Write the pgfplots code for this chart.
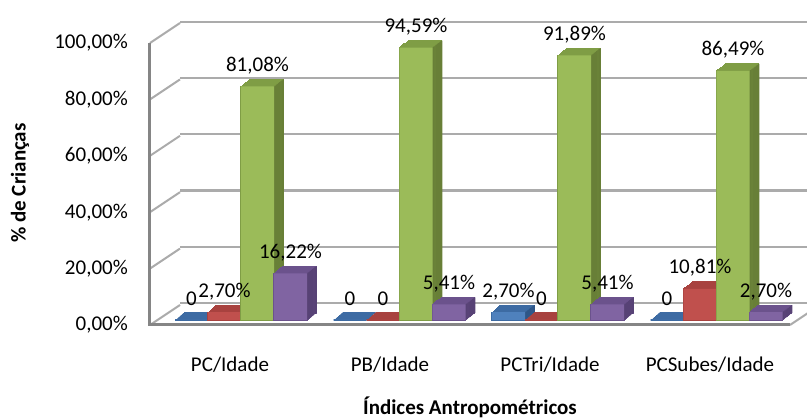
\documentclass[border=0pt]{standalone}
\usepackage{fontspec}
\setmainfont{Carlito}
\usepackage{pgfplots}
\usepackage{pgfplotstable}
\pgfplotsset{compat=1.18}

\definecolor{blueF}{HTML}{4F81BD}\definecolor{blueT}{HTML}{3D6BA3}\definecolor{blueS}{HTML}{2E5687}
\definecolor{redF}{HTML}{C0504D}\definecolor{redT}{HTML}{A8423F}\definecolor{redS}{HTML}{8A3432}
\definecolor{greenF}{HTML}{9BBB59}\definecolor{greenT}{HTML}{7F9D45}\definecolor{greenS}{HTML}{687F37}
\definecolor{purpF}{HTML}{8064A2}\definecolor{purpT}{HTML}{6B528C}\definecolor{purpS}{HTML}{574275}
\definecolor{gridgray}{HTML}{ABABAB}
\definecolor{edgegray}{HTML}{858585}

\newcommand\chartfont{\fontsize{21}{25}\selectfont}

% one table per series: category index, value, data label
\pgfplotstableread{
x y lab
0 0 0
1 0 0
2 2.70 {2,70\%}
3 0 0
}\tabBlue
\pgfplotstableread{
x y lab
0 2.70 {2,70\%}
1 0 0
2 0 0
3 10.81 {10,81\%}
}\tabRed
\pgfplotstableread{
x y lab
0 81.08 {81,08\%}
1 94.59 {94,59\%}
2 91.89 {91,89\%}
3 86.49 {86,49\%}
}\tabGreen
\pgfplotstableread{
x y lab
0 16.22 {16,22\%}
1 5.41 {5,41\%}
2 5.41 {5,41\%}
3 2.70 {2,70\%}
}\tabPurp

% 3D column: extruded copies (top colour), side slivers, then the front face
% #1 table, #2 bar shift, #3 sliver shift, #4 front, #5 top, #6 side
\newcommand\columnsthreed[6]{%
  \pgfplotsinvokeforeach{0,...,8}{%
    \addplot[ybar, bar width=33pt, bar shift=#2pt, fill=#5, draw=#5, line width=1.2pt,
      xshift=##1*1.125pt, yshift=##1*0.875pt, forget plot] table[x=x,y=y] {#1};}%
  \pgfplotsinvokeforeach{0,...,8}{%
    \addplot[ybar, bar width=1.4pt, bar shift=#3pt, fill=#6, draw=none,
      xshift=##1*1.125pt, yshift=##1*0.875pt, forget plot] table[x=x,y=y] {#1};}%
  \addplot[ybar, bar width=33pt, bar shift=#2pt, fill=#4, draw=none, forget plot]
    table[x=x,y=y] {#1};%
}
% data labels above each column, centred on it
\newcommand\columnlabels[2]{%
  \addplot[ybar, bar width=33pt, bar shift=#2pt, draw=none, fill=none, forget plot,
    point meta=explicit symbolic, nodes near coords,
    every node near coord/.append style={font=\chartfont, text=black, anchor=center,
      xshift=#2pt, yshift=21pt}]
    table[x=x,y=y,meta=lab] {#1};%
}

\begin{document}
\begin{tikzpicture}
\useasboundingbox (0,0) rectangle (807pt,420pt);

% back wall with the gridlines
\begin{axis}[at={(180pt,117pt)}, anchor=south west, scale only axis,
  width=627pt, height=281pt, xmin=0, xmax=1, ymin=0, ymax=100,
  axis line style={draw=none}, xtick=\empty, ytick={0,20,...,100}, yticklabels={},
  major tick length=0pt, ymajorgrids, major grid style={line width=2.2pt, gridgray}]
  \addplot[draw=none] coordinates {(0,0)};
\end{axis}

% front plane: tick labels, left wall and floor edges
\begin{axis}[at={(150pt,95pt)}, anchor=south west, scale only axis,
  width=640pt, height=282pt, xmin=-0.5, xmax=3.5, ymin=0, ymax=100, clip=false,
  axis line style={draw=none}, major tick length=0pt,
  xtick={0,1,2,3}, xticklabels={PC/Idade,PB/Idade,PCTri/Idade,PCSubes/Idade},
  ytick={0,20,...,100},
  yticklabels={{0,00\%},{20,00\%},{40,00\%},{60,00\%},{80,00\%},{100,00\%}},
  xticklabel style={font=\chartfont, anchor=center, yshift=-40pt},
  yticklabel style={font=\chartfont, anchor=east, inner sep=0pt, xshift=-22pt}]
  \addplot[draw=none] coordinates {(0,0)};
  \pgfplotsinvokeforeach{0,20,...,100}{%
    \draw[gridgray, line width=2pt] (axis cs:-0.5,#1) -- ++(30pt,20pt);}
  \draw[gridgray, line width=2pt] (axis cs:3.5,0) -- ++(30pt,20pt);
  \draw[edgegray, line width=3pt] (axis cs:-0.5,100) -- (axis cs:-0.5,0) -- (axis cs:3.5,0);
\end{axis}

% columns
\begin{axis}[at={(161.75pt,100pt)}, anchor=south west, scale only axis,
  width=634pt, height=288pt, xmin=-0.5, xmax=3.5, ymin=0, ymax=100,
  hide axis, clip=false]
  \columnsthreed{\tabBlue}{-49.5}{-32.8}{blueF}{blueT}{blueS}
  \columnsthreed{\tabRed}{-16.5}{0.2}{redF}{redT}{redS}
  \columnsthreed{\tabGreen}{16.5}{33.2}{greenF}{greenT}{greenS}
  \columnsthreed{\tabPurp}{49.5}{66.2}{purpF}{purpT}{purpS}
  \columnlabels{\tabBlue}{-49.5}
  \columnlabels{\tabRed}{-16.5}
  \columnlabels{\tabGreen}{16.5}
  \columnlabels{\tabPurp}{49.5}
\end{axis}

\node[font=\chartfont\bfseries, rotate=90] at (20pt,237pt) {\% de Crianças};
\node[font=\chartfont\bfseries] at (470pt,13pt) {Índices Antropométricos};
\end{tikzpicture}
\end{document}
